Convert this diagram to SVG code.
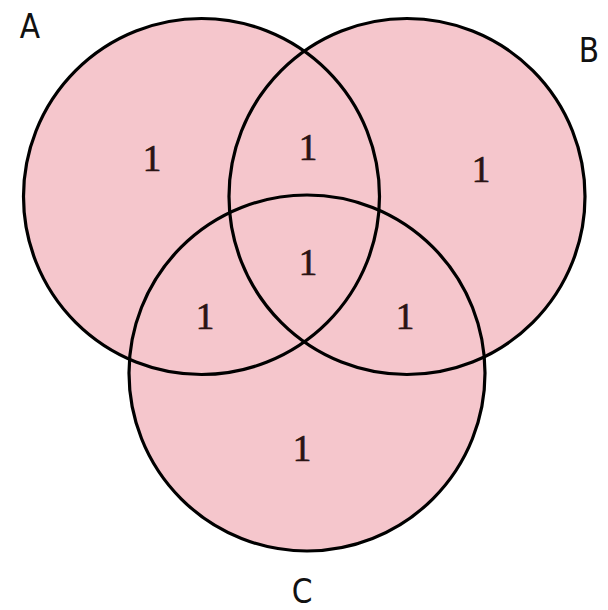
<svg xmlns="http://www.w3.org/2000/svg" width="608" height="610" viewBox="0 0 608 610">
<style>
.fill{fill:#f5c6cc;stroke:none}
.ring{fill:none;stroke:#000;stroke-width:3.2}
.num{font-family:"Liberation Serif","DejaVu Serif",serif;font-size:37px;fill:#2a1414;stroke:#2a1414;stroke-width:0.7;text-anchor:middle}
.lbl{font-family:"DejaVu Sans Condensed","DejaVu Sans",sans-serif;font-size:33px;fill:#111;text-anchor:middle}
</style>
<rect width="608" height="610" fill="#fff"/>
<g id="fills">
<circle class="fill" cx="201.5" cy="196.5" r="178"/>
<circle class="fill" cx="407" cy="196.5" r="178"/>
<circle class="fill" cx="307" cy="373" r="178"/>
</g>
<g id="setA"><circle class="ring" cx="201.5" cy="196.5" r="178"/><text class="lbl" x="30" y="38">A</text></g>
<g id="setB"><circle class="ring" cx="407" cy="196.5" r="178"/><text class="lbl" x="589" y="62">B</text></g>
<g id="setC"><circle class="ring" cx="307" cy="373" r="178"/><text class="lbl" x="302" y="603">C</text></g>
<g id="counts">
<text class="num" x="152" y="171">1</text>
<text class="num" x="308" y="160">1</text>
<text class="num" x="481" y="182">1</text>
<text class="num" x="308" y="275">1</text>
<text class="num" x="205" y="329">1</text>
<text class="num" x="405" y="329">1</text>
<text class="num" x="302" y="461">1</text>
</g>
</svg>
